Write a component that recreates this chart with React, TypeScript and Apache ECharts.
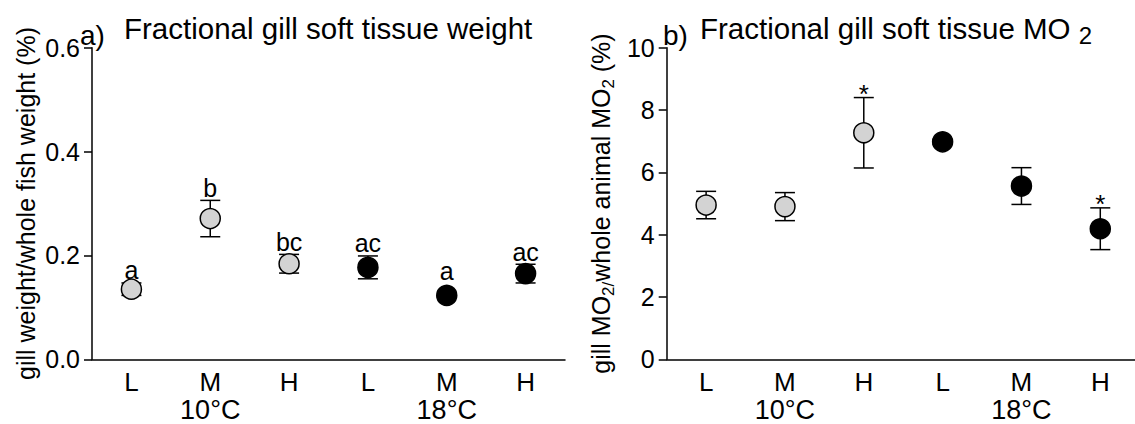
import React, { useEffect, useRef } from "react";
import * as echarts from "echarts";

// ---- data ----
const categories = ["L", "M", "H", "L", "M", "H"];
const groupLabels = ["", "10°C", "", "", "18°C", ""];
const fills = ["#d3d3d3", "#d3d3d3", "#d3d3d3", "#000000", "#000000", "#000000"];

// a) fractional gill soft tissue weight (%)
const weightMean = [0.135, 0.271, 0.184, 0.177, 0.123, 0.165];
const weightErr = [0.012, 0.035, 0.018, 0.022, 0.003, 0.018];
const weightLetters = ["a", "b", "bc", "ac", "a", "ac"];
const weightLetterAt = [0.147, 0.306, 0.202, 0.199, 0.146, 0.183];

// b) fractional gill soft tissue MO2 (%)
const mo2Mean = [4.95, 4.9, 7.27, 6.98, 5.56, 4.19];
const mo2Err = [0.44, 0.45, 1.13, 0.08, 0.59, 0.67];
const mo2Stars = ["", "", "*", "", "", "*"];

const weightTicks = { min: 0, max: 0.6, interval: 0.2 };
const mo2Ticks = { min: 0, max: 10, interval: 2 };

const FONT = "Liberation Sans, Arial, Helvetica, sans-serif";
const BLACK = "#000";

function errorBarSeries(means: number[], errs: number[], axisIdx: number) {
  return {
    type: "custom",
    xAxisIndex: axisIdx * 2,
    yAxisIndex: axisIdx,
    z: 2,
    silent: true,
    encode: { x: 0, y: [1, 2] },
    data: means.map((m, i) => [i, m - errs[i], m + errs[i]]),
    renderItem: (params: any, api: any) => {
      const x = api.value(0);
      const lo = api.coord([x, api.value(1)]);
      const hi = api.coord([x, api.value(2)]);
      const half = 10;
      const style = { stroke: BLACK, lineWidth: 1.5, fill: "none" };
      return {
        type: "group",
        children: [
          { type: "line", shape: { x1: lo[0], y1: lo[1], x2: hi[0], y2: hi[1] }, style },
          { type: "line", shape: { x1: hi[0] - half, y1: hi[1], x2: hi[0] + half, y2: hi[1] }, style },
          { type: "line", shape: { x1: lo[0] - half, y1: lo[1], x2: lo[0] + half, y2: lo[1] }, style },
        ],
      };
    },
  };
}

function markerSeries(means: number[], axisIdx: number) {
  return {
    type: "scatter",
    xAxisIndex: axisIdx * 2,
    yAxisIndex: axisIdx,
    z: 3,
    silent: true,
    symbol: "circle",
    symbolSize: 20,
    itemStyle: { borderColor: BLACK, borderWidth: 1.5, opacity: 1 },
    data: means.map((m, i) => ({ value: [i, m], itemStyle: { color: fills[i] } })),
  };
}

function xAxes(gridIndex: number) {
  return [
    {
      gridIndex,
      type: "category",
      data: categories,
      position: "bottom",
      boundaryGap: true,
      axisLine: { lineStyle: { color: BLACK, width: 1.5 } },
      axisTick: { alignWithLabel: true, length: 7, lineStyle: { color: BLACK, width: 1.5 } },
      axisLabel: { interval: 0, color: BLACK, fontSize: 26, fontFamily: FONT, margin: 10 },
      splitLine: { show: false },
    },
    {
      gridIndex,
      type: "category",
      data: groupLabels,
      position: "bottom",
      boundaryGap: true,
      axisLine: { show: false },
      axisTick: { show: false },
      axisLabel: { interval: 0, color: BLACK, fontSize: 27, lineHeight: 22, fontFamily: FONT, margin: 40 },
      splitLine: { show: false },
    },
  ];
}

export default function App() {
  const ref = useRef<HTMLDivElement>(null);

  useEffect(() => {
    if (!ref.current) return;
    const chart = echarts.init(ref.current, null, { renderer: "svg" });

    const gridCommon = { top: 47.7, height: 311.6, width: 473, containLabel: false, outerBoundsMode: "none" };

    const option: any = {
      animation: false,
      textStyle: { fontFamily: FONT, color: BLACK },
      grid: [
        { ...gridCommon, left: 92 },
        { ...gridCommon, left: 666.7 },
      ],
      xAxis: [...xAxes(0), ...xAxes(1)],
      yAxis: [
        {
          gridIndex: 0,
          type: "value",
          ...weightTicks,
          name: "gill weight/whole fish weight (%)",
          nameLocation: "middle",
          nameGap: 54,
          nameTextStyle: { fontSize: 25, color: BLACK, fontFamily: FONT },
          axisLine: { show: true, lineStyle: { color: BLACK, width: 1.5 } },
          axisTick: { show: true, length: 8, lineStyle: { color: BLACK, width: 1.5 } },
          axisLabel: { color: BLACK, fontSize: 25, fontFamily: FONT, margin: 12, formatter: (v: number) => v.toFixed(1) },
          splitLine: { show: false },
        },
        {
          gridIndex: 1,
          type: "value",
          ...mo2Ticks,
          name: "gill MO{s|2/}whole animal MO{s|2} (%)",
          nameLocation: "middle",
          nameGap: 50,
          nameTextStyle: {
            fontSize: 25,
            lineHeight: 32,
            color: BLACK,
            fontFamily: FONT,
            rich: { s: { fontSize: 17, lineHeight: 17, verticalAlign: "bottom", color: BLACK, fontFamily: FONT } },
          },
          axisLine: { show: true, lineStyle: { color: BLACK, width: 1.5 } },
          axisTick: { show: true, length: 8, lineStyle: { color: BLACK, width: 1.5 } },
          axisLabel: { color: BLACK, fontSize: 25, fontFamily: FONT, margin: 12 },
          splitLine: { show: false },
        },
      ],
      graphic: [
        { type: "text", x: 80, y: 35, style: { text: "a)", fontSize: 28, fontFamily: FONT, fill: BLACK, align: "left", verticalAlign: "middle" } },
        {
          type: "text",
          x: 124,
          y: 28,
          style: { text: "Fractional gill soft tissue weight", fontSize: 29.5, fontFamily: FONT, fill: BLACK, align: "left", verticalAlign: "middle" },
        },
        { type: "text", x: 663, y: 35, style: { text: "b)", fontSize: 28, fontFamily: FONT, fill: BLACK, align: "left", verticalAlign: "middle" } },
        {
          type: "text",
          x: 700,
          y: 28,
          style: {
            text: "Fractional gill soft tissue MO {s|2}",
            fontSize: 29.5,
            lineHeight: 38,
            fontFamily: FONT,
            fill: BLACK,
            align: "left",
            verticalAlign: "middle",
            rich: { s: { fontSize: 24, lineHeight: 24, verticalAlign: "bottom", fontFamily: FONT, fill: BLACK } },
          },
        },
      ],
      series: [
        errorBarSeries(weightMean, weightErr, 0),
        markerSeries(weightMean, 0),
        {
          type: "scatter",
          xAxisIndex: 0,
          yAxisIndex: 0,
          z: 4,
          silent: true,
          symbolSize: 0,
          itemStyle: { opacity: 1 },
          data: weightLetterAt.map((v, i) => [i, v]),
          label: {
            show: true,
            position: "top",
            distance: 0,
            color: BLACK,
            opacity: 1,
            fontSize: 25,
            fontFamily: FONT,
            formatter: (p: any) => weightLetters[p.dataIndex],
          },
        },
        errorBarSeries(mo2Mean, mo2Err, 1),
        markerSeries(mo2Mean, 1),
        {
          type: "scatter",
          xAxisIndex: 2,
          yAxisIndex: 1,
          z: 4,
          silent: true,
          symbolSize: 0,
          itemStyle: { opacity: 1 },
          data: mo2Mean
            .map((m, i) => ({ value: [i, m + mo2Err[i]], star: mo2Stars[i] }))
            .filter((d) => d.star !== "")
            .map((d) => d.value),
          label: {
            show: true,
            position: "top",
            distance: 0,
            offset: [0, 9],
            color: BLACK,
            opacity: 1,
            fontSize: 26,
            fontFamily: FONT,
            formatter: () => "*",
          },
        },
      ],
    };

    chart.setOption(option);
    return () => chart.dispose();
  }, []);

  return <div ref={ref} style={{ position: "absolute", left: 0, top: 0, width: 1135, height: 424, background: "#fff" }} />;
}
